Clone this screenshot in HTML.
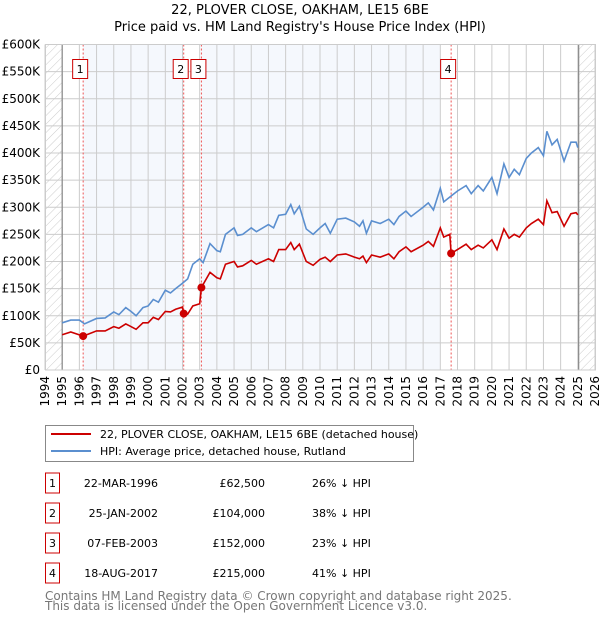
<!DOCTYPE html>
<html><head><meta charset="utf-8"><style>
body{margin:0;background:#fff;font-family:"DejaVu Sans","Liberation Sans",sans-serif;}
svg text{font-family:"DejaVu Sans","Liberation Sans",sans-serif;}
</style></head><body>
<svg id="chart" width="600" height="620" xmlns="http://www.w3.org/2000/svg">
<defs><pattern id="hatch" width="6" height="6" patternUnits="userSpaceOnUse" patternTransform="rotate(45)"><line x1="0" y1="0" x2="0" y2="6" stroke="#ccc" stroke-width="1"/></pattern></defs>
<text x="300" y="14" text-anchor="middle" font-size="13">22, PLOVER CLOSE, OAKHAM, LE15 6BE</text>
<text x="300" y="31" text-anchor="middle" font-size="13">Price paid vs. HM Land Registry's House Price Index (HPI)</text>
<g id="plot"></g>
<g>
<rect x="45.5" y="425.5" width="368" height="36" fill="#fff" stroke="#888"/>
<line x1="51" y1="434" x2="91" y2="434" stroke="#cc0000" stroke-width="2"/>
<text x="100" y="438" font-size="11">22, PLOVER CLOSE, OAKHAM, LE15 6BE (detached house)</text>
<line x1="51" y1="451" x2="91" y2="451" stroke="#5b8fcf" stroke-width="2"/>
<text x="100" y="455" font-size="11">HPI: Average price, detached house, Rutland</text>
</g>
<g id="table"></g>
<text x="45" y="600" font-size="12" fill="#777">Contains HM Land Registry data © Crown copyright and database right 2025.</text>
<text x="45" y="610" font-size="12" fill="#777">This data is licensed under the Open Government Licence v3.0.</text>
</svg>
<script>
const hpiYears=[1995,1995.5,1996,1996.3,1997,1997.5,1998,1998.3,1998.7,1999,1999.3,1999.7,2000,2000.3,2000.6,2001,2001.3,2001.6,2002,2002.3,2002.6,2003,2003.2,2003.6,2004,2004.2,2004.5,2005,2005.2,2005.5,2006,2006.3,2007,2007.3,2007.6,2008,2008.3,2008.5,2008.8,2009.2,2009.6,2010,2010.3,2010.6,2011,2011.5,2012,2012.3,2012.5,2012.7,2013,2013.5,2014,2014.3,2014.6,2015,2015.3,2016,2016.3,2016.6,2017,2017.2,2017.6,2018,2018.5,2018.8,2019.2,2019.5,2020,2020.3,2020.7,2021,2021.3,2021.6,2022,2022.3,2022.7,2023,2023.2,2023.5,2023.8,2024.2,2024.6,2024.9,2025];
const hpiValues=[87,92,92,85,95,96,107,102,115,108,100,115,118,130,125,147,142,150,160,168,195,205,198,233,220,218,250,262,248,250,262,255,268,262,285,287,305,288,302,260,250,262,270,252,278,280,273,265,275,252,275,270,278,268,283,293,283,300,308,295,335,310,320,330,340,325,340,330,355,325,380,355,370,360,390,400,410,395,440,415,425,385,420,420,410];
const priceYears=[1995,1995.5,1996.22,1997,1997.5,1998,1998.3,1998.7,1999,1999.3,1999.7,2000,2000.3,2000.6,2001,2001.3,2001.6,2002,2002.07,2002.3,2002.6,2003,2003.1,2003.6,2004,2004.2,2004.5,2005,2005.2,2005.5,2006,2006.3,2007,2007.3,2007.6,2008,2008.3,2008.5,2008.8,2009.2,2009.6,2010,2010.3,2010.6,2011,2011.5,2012,2012.3,2012.5,2012.7,2013,2013.5,2014,2014.3,2014.6,2015,2015.3,2016,2016.3,2016.6,2017,2017.2,2017.55,2017.63,2018,2018.5,2018.8,2019.2,2019.5,2020,2020.3,2020.7,2021,2021.3,2021.6,2022,2022.3,2022.7,2023,2023.2,2023.5,2023.8,2024.2,2024.6,2024.9,2025];
const priceValues=[65,70,62.5,72,72,80,77,85,80,75,87,87,97,93,108,107,112,116,104,103,118,122,152,180,170,168,195,200,190,192,202,195,205,200,222,222,235,222,232,200,193,204,208,200,212,214,208,205,210,198,212,208,214,205,218,227,218,230,237,228,262,245,250,215,222,232,222,230,225,240,222,260,243,250,245,262,270,278,268,312,290,292,265,288,290,286];
const saleLabels=["1","2","3","4"];
const saleYears=[1996.22,2002.07,2003.1,2017.63];
const salePrices=[62.5,104,152,215];
const saleDates=["22-MAR-1996","25-JAN-2002","07-FEB-2003","18-AUG-2017"];
const salePriceText=["£62,500","£104,000","£152,000","£215,000"];
const saleDiff=["26% ↓ HPI","38% ↓ HPI","23% ↓ HPI","41% ↓ HPI"];
const yTicks=[0,50,100,150,200,250,300,350,400,450,500,550,600];
const xTicks=[1994,1995,1996,1997,1998,1999,2000,2001,2002,2003,2004,2005,2006,2007,2008,2009,2010,2011,2012,2013,2014,2015,2016,2017,2018,2019,2020,2021,2022,2023,2024,2025,2026];

const NS="http://www.w3.org/2000/svg";
const X0=45,X1=595,Y0=370,Y1=44.5;
const x=v=>X0+(v-1994)/(2026-1994)*(X1-X0);
const y=v=>Y0-v/600*(Y0-Y1);
const plot=document.getElementById('plot');
function mk(tag,attrs,parent){const e=document.createElementNS(NS,tag);for(const k in attrs)e.setAttribute(k,attrs[k]);(parent||plot).appendChild(e);return e;}
let r=mk('rect',{x:X0,y:Y1,width:X1-X0,height:Y0-Y1,fill:'#fff'});


r=mk('rect',{x:x(saleYears[0]),y:Y1,width:x(saleYears[1])-x(saleYears[0]),height:Y0-Y1,fill:'#eef3fc',opacity:0.6});


r=mk('rect',{x:x(saleYears[2]),y:Y1,width:x(2017)-x(saleYears[2]),height:Y0-Y1,fill:'#eef3fc',opacity:0.6});


r=mk('rect',{x:X0,y:Y1,width:x(1995)-X0,height:Y0-Y1,fill:'url(#hatch)'});


r=mk('rect',{x:x(2025.05),y:Y1,width:X1-x(2025.05),height:Y0-Y1,fill:'url(#hatch)'});


yTicks.forEach(t=>{
 let l=mk('line',{x1:X0,x2:X1,y1:y(t),y2:y(t),stroke:'#ccc','stroke-width':1});
 
 
 let tx=mk('text',{x:X0-5,y:y(t)+4,'text-anchor':'end','font-size':12});
 tx.textContent=t===0?'£0':'£'+t+'K';
 
 
});
xTicks.forEach(t=>{
 let l=mk('line',{x1:x(t),x2:x(t),y1:Y1,y2:Y0,stroke:'#ccc','stroke-width':1});
 
 
 let tx=mk('text',{x:0,y:0,'text-anchor':'end','font-size':12,transform:`translate(${x(t)+4},${Y0+6}) rotate(-90)`});
 tx.textContent=t;
 
 
});
[1995,2025.05].forEach(t=>{let l=mk('line',{x1:x(t),x2:x(t),y1:Y1,y2:Y0,stroke:'#888','stroke-width':1.2});
 
 });
saleYears.forEach((s,i)=>{
 let l=mk('line',{x1:x(s),x2:x(s),y1:Y1,y2:Y0,stroke:'#e55','stroke-width':1,'stroke-dasharray':'2,2'});
 
 
});
let p=mk('polyline',{points:hpiYears.map((v,i)=>x(v)+','+y(hpiValues[i])).join(' '),fill:'none',stroke:'#5b8fcf','stroke-width':1.6});


p=mk('polyline',{points:priceYears.map((v,i)=>x(v)+','+y(priceValues[i])).join(' '),fill:'none',stroke:'#cc0000','stroke-width':1.6});


saleYears.forEach((s,i)=>{
 let c=mk('circle',{cx:x(s),cy:y(salePrices[i]),r:4,fill:'#cc0000'});
 
 
 let b=mk('rect',{x:x(s)-10.5,y:59.5,width:15,height:19,fill:'#fff',stroke:'#cc0000'});
 
 
 let t=mk('text',{x:x(s)-3,y:73,'text-anchor':'middle','font-size':11});
 t.textContent=saleLabels[i];
 
 
});
mk('rect',{x:X0+0.5,y:Y1,width:X1-X0,height:Y0-Y1,fill:'none',stroke:'#ccc'});
const tb=document.getElementById('table');
const rowY=[483,513,543,573];
saleYears.forEach((s,i)=>{
 const cy=rowY[i];
 let b=mk('rect',{x:45.5,y:cy-10,width:14,height:20,fill:'#fff',stroke:'#cc0000'},tb);
 
 
 let t=mk('text',{x:52.5,y:cy+4,'text-anchor':'middle','font-size':11},tb);t.textContent=saleLabels[i];
 
 
 t=mk('text',{x:158,y:cy+4,'text-anchor':'end','font-size':11},tb);t.textContent=saleDates[i];
 
 
 t=mk('text',{x:265,y:cy+4,'text-anchor':'end','font-size':11},tb);t.textContent=salePriceText[i];
 
 
 t=mk('text',{x:312,y:cy+4,'font-size':11},tb);t.textContent=saleDiff[i];
 
 
});
</script>
</body></html>
